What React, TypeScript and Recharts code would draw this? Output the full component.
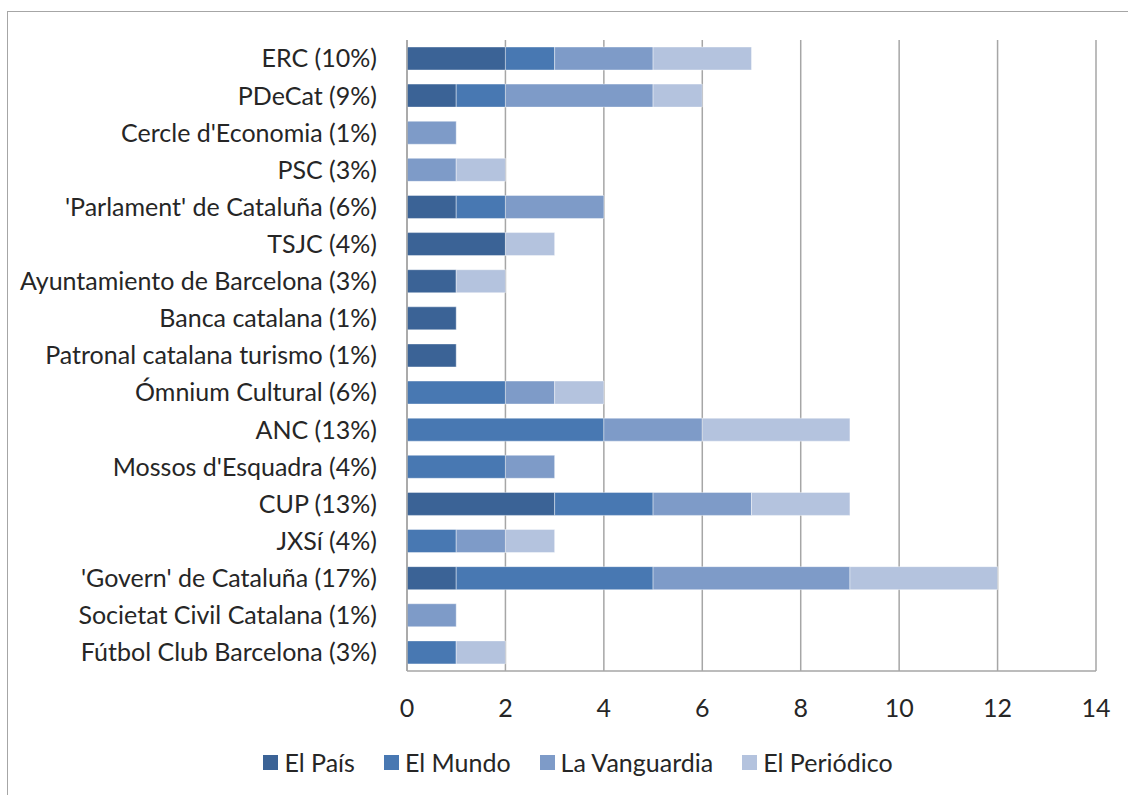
import React from 'react';
import { BarChart, Bar, XAxis, YAxis, CartesianGrid } from 'recharts';

const categories = [
  'ERC (10%)',
  'PDeCat (9%)',
  "Cercle d'Economia (1%)",
  'PSC (3%)',
  "'Parlament' de Cataluña (6%)",
  'TSJC (4%)',
  'Ayuntamiento de Barcelona (3%)',
  'Banca catalana (1%)',
  'Patronal catalana turismo (1%)',
  'Ómnium Cultural (6%)',
  'ANC (13%)',
  "Mossos d'Esquadra (4%)",
  'CUP (13%)',
  'JXSí (4%)',
  "'Govern' de Cataluña (17%)",
  'Societat Civil Catalana (1%)',
  'Fútbol Club Barcelona (3%)',
];

const elPais = [2, 1, 0, 0, 1, 2, 1, 1, 1, 0, 0, 0, 3, 0, 1, 0, 0];
const elMundo = [1, 1, 0, 0, 1, 0, 0, 0, 0, 2, 4, 2, 2, 1, 4, 0, 1];
const laVanguardia = [2, 3, 1, 1, 2, 0, 0, 0, 0, 1, 2, 1, 2, 1, 4, 1, 0];
const elPeriodico = [2, 1, 0, 1, 0, 1, 1, 0, 0, 1, 3, 0, 2, 1, 3, 0, 1];

const xTicks = [0, 2, 4, 6, 8, 10, 12, 14];

const series = [
  { key: 'pais', name: 'El País', color: '#3B6396', values: elPais },
  { key: 'mundo', name: 'El Mundo', color: '#4878B2', values: elMundo },
  { key: 'vanguardia', name: 'La Vanguardia', color: '#7E9BC8', values: laVanguardia },
  { key: 'periodico', name: 'El Periódico', color: '#B4C3DE', values: elPeriodico },
];

const data = categories.map((name, i) => {
  const row: Record<string, string | number> = { name };
  series.forEach((s) => {
    row[s.key] = s.values[i];
  });
  return row;
});

const font = 'Lato, "Open Sans", sans-serif';
const textColor = '#262626';
const gridColor = '#A6A6A6';

export default function App() {
  return (
    <div style={{ position: 'absolute', left: 0, top: 0, width: 1128, height: 795, background: '#fff', overflow: 'hidden' }}>
      <div
        style={{
          position: 'absolute',
          left: 7,
          top: 11,
          width: 1200,
          height: 900,
          borderTop: `1px solid ${gridColor}`,
          borderLeft: `1px solid ${gridColor}`,
        }}
      />
      <BarChart
        width={1128}
        height={795}
        data={data}
        layout="vertical"
        margin={{ top: 40, right: 32, bottom: 64, left: 7 }}
        barSize={23}
        style={{ position: 'absolute', left: 0, top: 0 }}
      >
        <CartesianGrid horizontal={false} stroke={gridColor} strokeWidth={1.5} />
        <XAxis
          type="number"
          domain={[0, 14]}
          ticks={xTicks}
          axisLine={{ stroke: gridColor, strokeWidth: 1.5 }}
          tickLine={false}
          tick={{ fill: textColor, fontSize: 25, fontFamily: font }}
          tickMargin={22}
          height={60}
        />
        <YAxis
          type="category"
          dataKey="name"
          width={400}
          axisLine={{ stroke: gridColor, strokeWidth: 1.5 }}
          tickLine={false}
          tick={{ fill: textColor, fontSize: 25, fontFamily: font }}
          tickMargin={24}
          interval={0}
        />
        {series.map((s) => (
          <Bar
            key={s.key}
            dataKey={s.key}
            name={s.name}
            stackId="a"
            fill={s.color}
            stroke="#ffffff"
            strokeOpacity={0.4}
            strokeWidth={1}
            isAnimationActive={false}
          />
        ))}
      </BarChart>
      <div
        style={{
          position: 'absolute',
          left: 14,
          width: 1128,
          top: 745,
          display: 'flex',
          justifyContent: 'center',
          fontFamily: font,
          fontSize: 25,
          color: textColor,
          lineHeight: '34px',
        }}
      >
        {series.map((s, i) => (
          <div key={s.key} style={{ display: 'flex', alignItems: 'center', marginLeft: i === 0 ? 0 : 29 }}>
            <span style={{ width: 15, height: 15, background: s.color, display: 'inline-block', marginRight: 6 }} />
            <span>{s.name}</span>
          </div>
        ))}
      </div>
    </div>
  );
}
